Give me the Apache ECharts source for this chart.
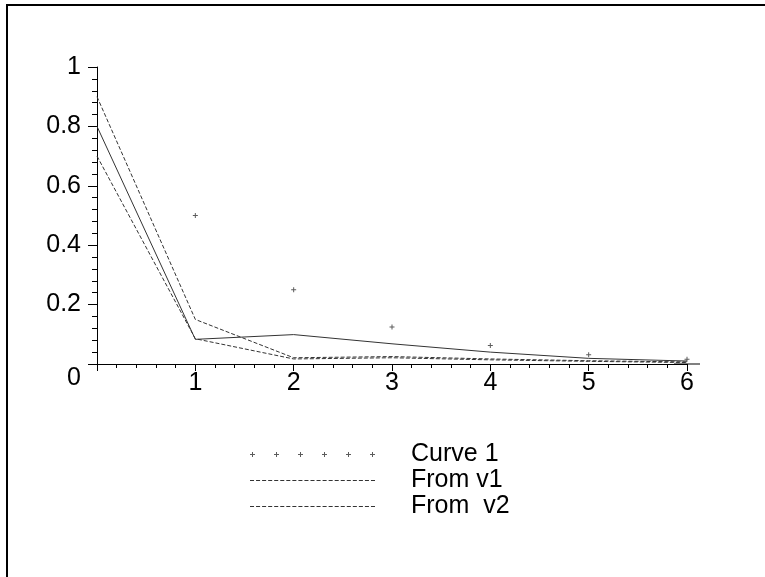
<!DOCTYPE html>
<html>
<head>
<meta charset="utf-8">
<script src="https://cdn.jsdelivr.net/npm/echarts@6/dist/echarts.min.js"></script>
<style>
  html, body { margin: 0; padding: 0; background: #fff; overflow: hidden; }
  #chart { position: absolute; left: 0; top: 0; width: 765px; height: 577px; }
</style>
</head>
<body>
<div id="chart"></div>
<script>
  // x positions
  const xs = [0, 1, 2, 3, 4, 5, 6]
  // points (plus signs), x = 1..6
  const curve1X = [1, 2, 3, 4, 5, 6]
  const curve1 = [0.5, 0.25, 0.125, 0.0625, 0.03125, 0.0156]
  // solid line (no legend entry)
  const solid = [0.8, 0.083, 0.099, 0.068, 0.04, 0.019, 0.01]
  // dashed lines
  const fromV1 = [0.9, 0.15, 0.021, 0.025, 0.017, 0.011, 0.007]
  const fromV2 = [0.7, 0.085, 0.017, 0.021, 0.014, 0.009, 0.005]
  const legendNames = ['Curve 1', 'From v1', 'From  v2']

  const pairs = (x, y) => y.map((v, i) => [x[i], v])
  const plus = 'path://M2,0L3,0L3,2L5,2L5,3L3,3L3,5L2,5L2,3L0,3L0,2L2,2Z'
  // legend icons: a row of six pluses, and a dashed stroke
  let rowIcon = 'path://'
  for (let k = 0; k < 6; k++) {
    const o = k * 24
    rowIcon += 'M' + (o + 2) + ',0L' + (o + 3) + ',0L' + (o + 3) + ',2L' + (o + 5) + ',2L' + (o + 5) + ',3L' + (o + 3) + ',3L' + (o + 3) + ',5L' + (o + 2) + ',5L' + (o + 2) + ',3L' + o + ',3L' + o + ',2L' + (o + 2) + ',2Z'
  }
  let dashIcon = 'path://'
  for (let o = 0; o < 125; o += 6) {
    dashIcon += 'M' + o + ',0L' + (o + 4) + ',0L' + (o + 4) + ',1L' + o + ',1Z'
  }

  const font = "'Liberation Sans', Arial, sans-serif"
  const chart = echarts.init(document.getElementById('chart'))
  chart.setOption({
    animation: false,
    // page frame: left and top edges only
    graphic: [
      { type: 'line', shape: { x1: 7, y1: 4, x2: 7, y2: 577 }, style: { stroke: '#000', lineWidth: 2 } },
      { type: 'line', shape: { x1: 6, y1: 5, x2: 765, y2: 5 }, style: { stroke: '#000', lineWidth: 2 } }
    ],
    grid: { left: 97, top: 67, right: 78, bottom: 213 },
    xAxis: {
      type: 'value', min: 0, max: 6, interval: 1,
      splitLine: { show: false },
      axisLine: { lineStyle: { color: '#000', width: 1 }, symbol: ['none', 'rect'], symbolSize: [1, 26] },
      axisTick: { length: 7, lineStyle: { color: '#000' } },
      minorTick: { show: true, splitNumber: 5, length: 4, lineStyle: { color: '#000' } },
      axisLabel: {
        color: '#000', fontSize: 25, fontFamily: font, margin: 7,
        formatter: v => (v === 0 ? '' : String(v))
      }
    },
    yAxis: {
      type: 'value', min: 0, max: 1, interval: 0.2,
      splitLine: { show: false },
      axisLine: { show: true, lineStyle: { color: '#000', width: 1 } },
      axisTick: { show: true, length: 9, lineStyle: { color: '#000' } },
      minorTick: { show: true, splitNumber: 5, length: 5, lineStyle: { color: '#000' } },
      axisLabel: {
        color: '#000', fontSize: 25, fontFamily: font, margin: 16,
        formatter: v => (v === 0 ? '{lo|0}' : String(Math.round(v * 10) / 10)),
        rich: { lo: { fontSize: 25, fontFamily: font, color: '#000', padding: [28, 0, 0, 0] } }
      }
    },
    legend: {
      orient: 'vertical', left: 250, top: 442, padding: 0,
      data: [
        { name: legendNames[0], icon: rowIcon },
        { name: legendNames[1], icon: dashIcon },
        { name: legendNames[2], icon: dashIcon }
      ],
      itemWidth: 125, itemHeight: 5, itemGap: 1,
      selectedMode: false,
      itemStyle: { color: '#333' },
      textStyle: { color: '#000', fontSize: 25, fontFamily: font, lineHeight: 24, padding: [0, 0, 0, 31] }
    },
    series: [
      {
        name: legendNames[0], type: 'scatter', data: pairs(curve1X, curve1),
        symbol: plus, symbolSize: 5, itemStyle: { color: '#333' }
      },
      {
        name: 'solid', type: 'line', data: pairs(xs, solid), symbol: 'none',
        lineStyle: { color: '#333', width: 1 }
      },
      {
        name: legendNames[1], type: 'line', data: pairs(xs, fromV1), symbol: 'none',
        itemStyle: { color: '#333' },
        lineStyle: { color: '#333', width: 1, type: [4, 2] }
      },
      {
        name: legendNames[2], type: 'line', data: pairs(xs, fromV2), symbol: 'none',
        itemStyle: { color: '#333' },
        lineStyle: { color: '#333', width: 1, type: [4, 2] }
      }
    ]
  })
</script>
</body>
</html>
